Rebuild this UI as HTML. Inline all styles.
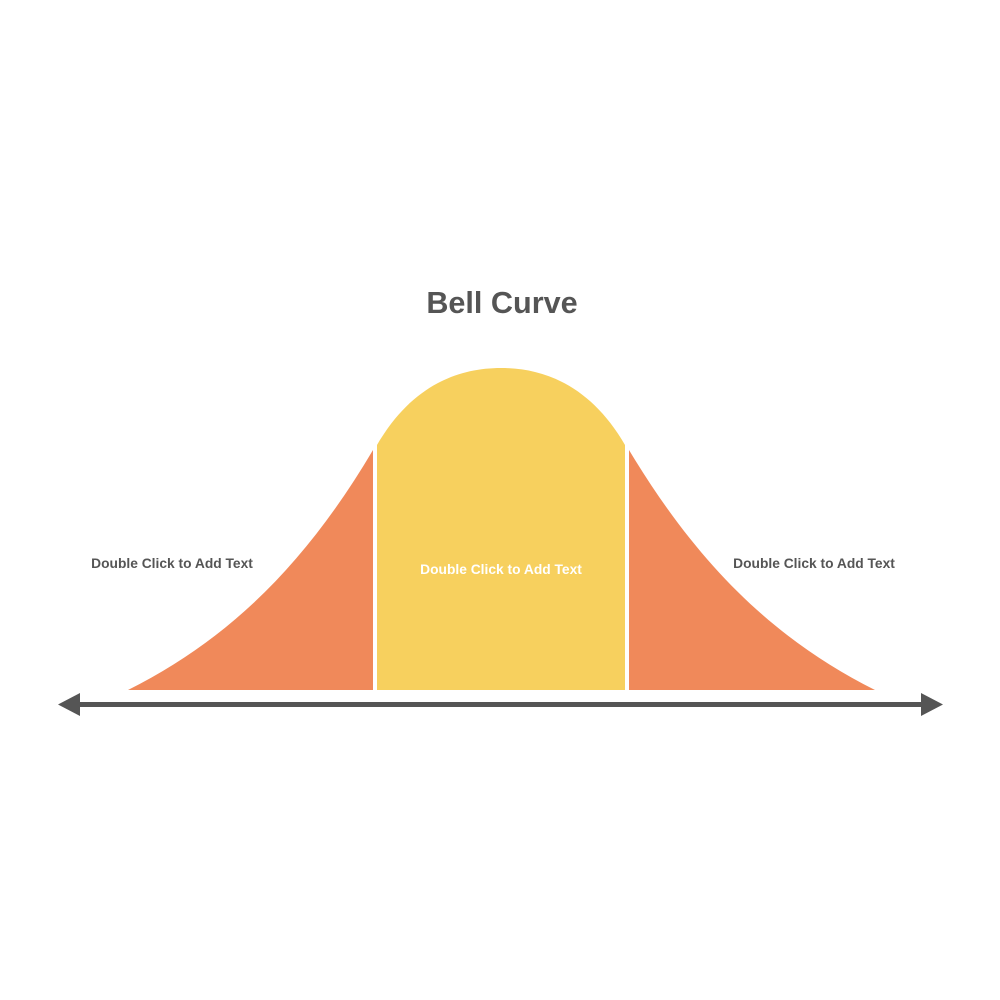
<!DOCTYPE html>
<html><head><style>body{margin:0;background:#fff}svg{display:block}</style></head>
<body>
<svg width="1000" height="1000" viewBox="0 0 1000 1000" xmlns="http://www.w3.org/2000/svg">
<rect width="1000" height="1000" fill="#fff"/>
<text x="502" y="313" text-anchor="middle" font-family="Liberation Sans, sans-serif" font-weight="bold" font-size="30.6" fill="#555">Bell Curve</text>
<path d="M128,690 C228,640 305,565 373,450 L373,690 Z" fill="#F0895A"/>
<path d="M875,690 C775,640 698,565 629,450 L629,690 Z" fill="#F0895A"/>
<path d="M377,690 L377,445 C410,388 455,368 501,368 C547,368 592,388 625,445 L625,690 Z" fill="#F7D05E"/>
<line x1="78" y1="704.5" x2="924" y2="704.5" stroke="#555" stroke-width="5"/>
<polygon points="58,704.5 80,693 80,716" fill="#555"/>
<polygon points="943,704.5 921,693 921,716" fill="#555"/>
<g font-family="Liberation Sans, sans-serif" font-weight="bold" font-size="13.8" text-anchor="middle">
<text x="172" y="568" fill="#555">Double Click to Add Text</text>
<text x="501" y="574" fill="#fff">Double Click to Add Text</text>
<text x="814" y="568" fill="#555">Double Click to Add Text</text>
</g>
</svg>
</body></html>
